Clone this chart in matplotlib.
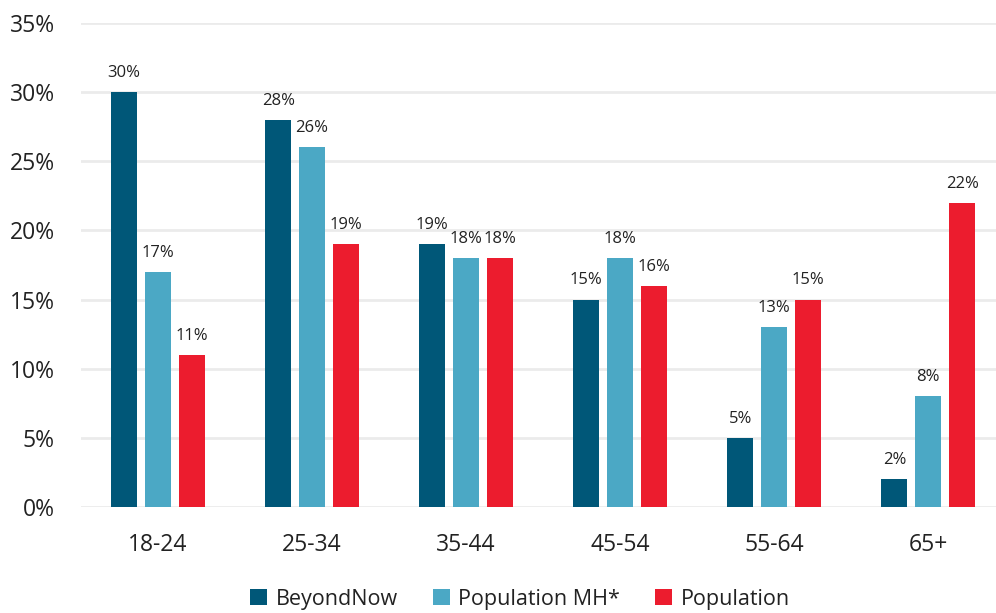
import matplotlib.pyplot as plt
import numpy as np

plt.rcParams['font.family'] = ['Open Sans', 'DejaVu Sans']

age_groups = ['18-24', '25-34', '35-44', '45-54', '55-64', '65+']
beyondnow = [30, 28, 19, 15, 5, 2]
population_mh = [17, 26, 18, 18, 13, 8]
population = [11, 19, 18, 16, 15, 22]

series_names = ['BeyondNow', 'Population MH*', 'Population']
colours = ['#005778', '#4BA8C5', '#EC1C2E']

fig = plt.figure(figsize=(9.96, 6.13), dpi=100)
ax = fig.add_axes([81 / 996, 1 - 507 / 613, 1 - 81 / 996, 484 / 613])

x = np.arange(len(age_groups))
width = 0.17
step = 0.22

for i, (vals, name, col) in enumerate(zip([beyondnow, population_mh, population], series_names, colours)):
    bars = ax.bar(x + (i - 1) * step, vals, width, color=col, label=name, zorder=3)
    for b, v in zip(bars, vals):
        ax.annotate(f'{v}%', (b.get_x() + b.get_width() / 2, v), xytext=(0, 8),
                    textcoords='offset points', ha='center', va='bottom', fontsize=12, color='#222222')

ax.set_ylim(0, 35)
ax.set_xlim(-0.5, 5.44)
ax.set_yticks(range(0, 36, 5))
ax.set_yticklabels([f'{t}%' for t in range(0, 36, 5)], fontsize=16.5, color='#222222')
ax.set_xticks(x)
ax.set_xticklabels(age_groups, fontsize=16.5, color='#222222')
ax.tick_params(axis='both', length=0)
ax.tick_params(axis='x', pad=19)
ax.tick_params(axis='y', pad=19)
ax.grid(axis='y', color='#ebebeb', linewidth=2, zorder=0)
for s in ax.spines.values():
    s.set_visible(False)

fig.legend(loc='center', bbox_to_anchor=(520 / 996, 1 - 599 / 613), ncol=3, frameon=False,
           fontsize=15.5, handlelength=0.8, handleheight=0.8, handletextpad=0.4, columnspacing=1.6,
           labelcolor='#222222')

fig.savefig('out.png', dpi=100)
